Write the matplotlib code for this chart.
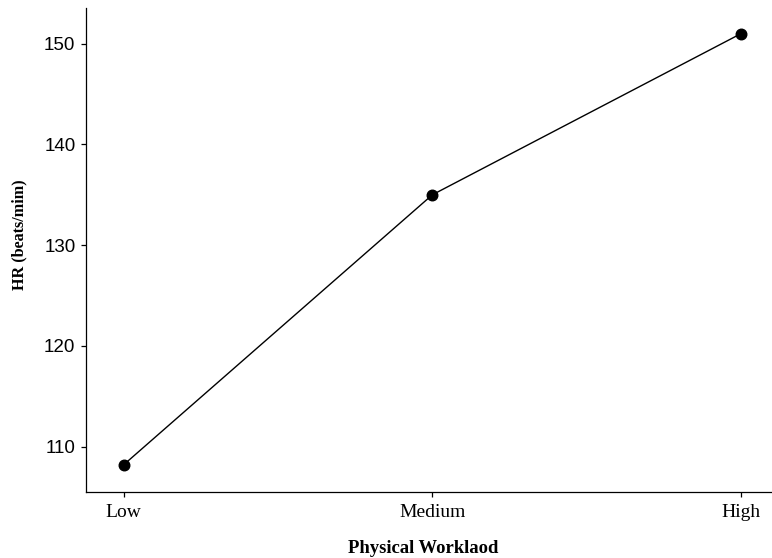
import matplotlib.pyplot as plt

workload = ["Low", "Medium", "High"]
heart_rate = [108.2, 135.0, 151.0]
y_ticks = [110, 120, 130, 140, 150]

serif = ["Liberation Serif", "DejaVu Serif"]

fig = plt.figure(figsize=(7.72, 5.58), dpi=100)
ax = fig.add_axes([0.112, 0.119, 0.888, 0.866])

xs = range(len(workload))
ax.plot(xs, heart_rate, color="black", linewidth=1.0,
        marker="o", markersize=7.6, markerfacecolor="black")

ax.set_xlim(-0.12, 2.1)
ax.set_ylim(105.55, 153.5)
ax.set_xticks(list(xs))
ax.set_xticklabels(workload, family=serif, fontsize=14)
ax.set_yticks(y_ticks)
ax.set_yticklabels([str(t) for t in y_ticks], family="Liberation Sans", fontsize=13.5)

for side in ["top", "right"]:
    ax.spines[side].set_visible(False)
for side in ["left", "bottom"]:
    ax.spines[side].set_linewidth(0.9)
ax.tick_params(direction="out", length=3.6, width=0.9, color="black")
ax.tick_params(axis="y", pad=4.3)
ax.tick_params(axis="x", pad=5)

ax.set_xlabel("Physical Worklaod", family=serif, fontweight="bold",
              fontsize=13.4, va="baseline")
ax.xaxis.set_label_coords(0.4916, -0.1267)
ax.set_ylabel("HR (beats/mim)", family=serif, fontweight="bold", fontsize=11.6)
ax.yaxis.set_label_coords(-0.0868, 0.532)

fig.savefig("out.png", dpi=100)
